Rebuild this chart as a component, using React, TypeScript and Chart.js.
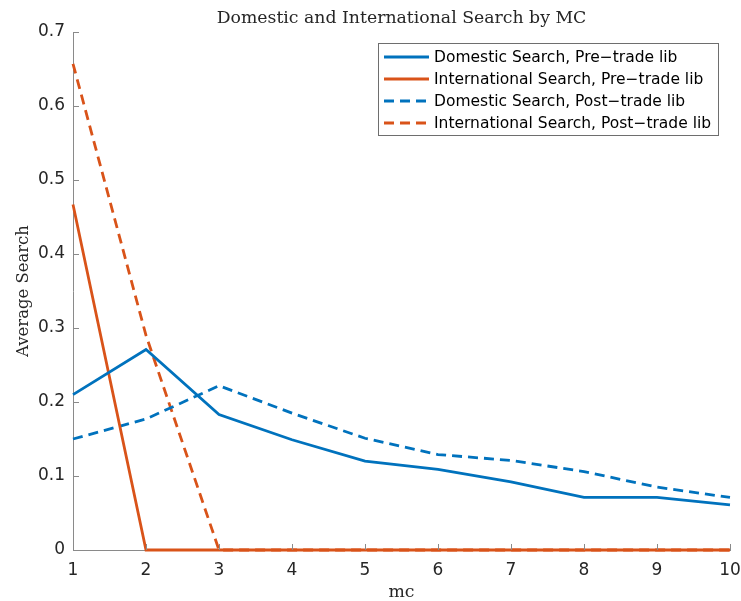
import React, { useEffect, useRef } from "react";
import { Chart, registerables } from "chart.js";

Chart.register(...registerables);

const categories = [1, 2, 3, 4, 5, 6, 7, 8, 9, 10];
const domesticPre = [0.21, 0.271, 0.183, 0.149, 0.12, 0.109, 0.092, 0.071, 0.071, 0.061];
const internationalPre = [0.467, 0, 0, 0, 0, 0, 0, 0, 0, 0];
const domesticPost = [0.15, 0.177, 0.222, 0.185, 0.151, 0.129, 0.121, 0.106, 0.085, 0.071];
const internationalPost = [0.657, 0.29, 0, 0, 0, 0, 0, 0, 0, 0];

const seriesNames = [
  "Domestic Search, Pre-trade lib",
  "International Search, Pre-trade lib",
  "Domestic Search, Post-trade lib",
  "International Search, Post-trade lib",
];
const titleText = "Domestic and International Search by MC";
const xLabel = "mc";
const yLabel = "Average Search";

const BLUE = "#0072BD";
const ORANGE = "#D95319";
const DASH = [10, 6];
const AXIS = "#8a8a8a";
const TEXT = "#262626";
const SERIF = "'DejaVu Serif', serif";
const SANS = "'DejaVu Sans', sans-serif";

function fitFont(ctx: CanvasRenderingContext2D, text: string, family: string, target: number) {
  ctx.font = `20px ${family}`;
  const w = ctx.measureText(text).width;
  const size = (20 * target) / w;
  ctx.font = `${size.toFixed(2)}px ${family}`;
}

export default function App() {
  const ref = useRef<HTMLCanvasElement>(null);
  useEffect(() => {
    document.body.style.margin = "0";
    const canvas = ref.current!;
    const mk = (vals: number[]) => categories.map((c, i) => ({ x: c, y: vals[i] }));
    const styles = [
      { color: BLUE, dash: [] as number[] },
      { color: ORANGE, dash: [] as number[] },
      { color: BLUE, dash: DASH },
      { color: ORANGE, dash: DASH },
    ];
    const decor = {
      id: "decor",
      afterDraw(chart: any) {
        const ctx = chart.ctx as CanvasRenderingContext2D;
        const { left, right, top, bottom } = chart.chartArea;
        const xs = chart.scales.x;
        const ys = chart.scales.y;
        ctx.save();
        ctx.strokeStyle = AXIS;
        ctx.lineWidth = 1;
        ctx.beginPath();
        ys.ticks.forEach((t: any) => {
          const y = Math.round(ys.getPixelForValue(t.value)) + 0.5;
          ctx.moveTo(left, y);
          ctx.lineTo(left + 6, y);
        });
        xs.ticks.forEach((t: any) => {
          const x = Math.round(xs.getPixelForValue(t.value)) + 0.5;
          ctx.moveTo(x, bottom);
          ctx.lineTo(x, bottom - 6);
        });
        ctx.stroke();
        ctx.fillStyle = TEXT;
        ctx.textAlign = "center";
        ctx.textBaseline = "alphabetic";
        fitFont(ctx, titleText, SERIF, 370);
        ctx.fillText(titleText, (left + right) / 2, 23);
        fitFont(ctx, xLabel, SERIF, 26);
        ctx.fillText(xLabel, (left + right) / 2, 597);
        ctx.save();
        ctx.translate(28, (top + bottom) / 2);
        ctx.rotate(-Math.PI / 2);
        fitFont(ctx, yLabel, SERIF, 132);
        ctx.fillText(yLabel, 0, 0);
        ctx.restore();
        const bx = 378.5, by = 43.5, bw = 340, bh = 92;
        ctx.fillStyle = "#fff";
        ctx.fillRect(bx, by, bw, bh);
        ctx.strokeStyle = "#6e6e6e";
        ctx.lineWidth = 1;
        ctx.strokeRect(bx, by, bw, bh);
        const rowsY = [57, 79, 101, 123];
        const labels = seriesNames.map((n) => n.replace(/-/g, "\u2212"));
        fitFont(ctx, labels[3], SANS, 277);
        ctx.textAlign = "left";
        ctx.textBaseline = "middle";
        labels.forEach((name, i) => {
          const y = rowsY[i];
          ctx.strokeStyle = styles[i].color;
          ctx.lineWidth = 2.8;
          ctx.setLineDash(styles[i].dash);
          ctx.beginPath();
          ctx.moveTo(384, y);
          ctx.lineTo(429, y);
          ctx.stroke();
          ctx.setLineDash([]);
          ctx.fillStyle = "#000";
          ctx.fillText(name, 434, y + 1);
        });
        ctx.restore();
      },
    };
    const chart = new Chart(canvas, {
      type: "line",
      data: {
        datasets: [domesticPre, internationalPre, domesticPost, internationalPost].map((v, i) => ({
          label: seriesNames[i],
          data: mk(v),
          borderColor: styles[i].color,
          backgroundColor: styles[i].color,
          borderDash: styles[i].dash,
          borderWidth: 2.8,
          pointRadius: 0,
          tension: 0,
          clip: 6,
        })),
      },
      options: {
        animation: false,
        responsive: false,
        devicePixelRatio: 1,
        layout: { padding: { top: 32, right: 11, left: 0, bottom: 0 } },
        plugins: { legend: { display: false }, title: { display: false }, tooltip: { enabled: false } },
        scales: {
          x: {
            type: "linear",
            min: 1,
            max: 10,
            ticks: { stepSize: 1, color: TEXT, font: { size: 17, family: SANS }, padding: 10 },
            grid: { display: true, drawOnChartArea: false, drawTicks: false },
            border: { display: true, color: AXIS },
            afterFit: (s: any) => { s.height = 51; s.paddingLeft = 0; s.paddingRight = 0; },
          },
          y: {
            min: 0,
            max: 0.7,
            ticks: {
              stepSize: 0.1,
              color: TEXT,
              font: { size: 17, family: SANS },
              padding: 8,
              callback: (v: any) => (Number(v) === 0 ? "0" : Number(v).toFixed(1)),
            },
            grid: { display: true, drawOnChartArea: false, drawTicks: false },
            border: { display: true, color: AXIS },
            afterFit: (s: any) => { s.width = 73; s.paddingTop = 0; s.paddingBottom = 0; },
          },
        },
      },
      plugins: [decor],
    } as any);
    return () => chart.destroy();
  }, []);
  return <canvas ref={ref} width={741} height={601} style={{ display: "block" }} />;
}
